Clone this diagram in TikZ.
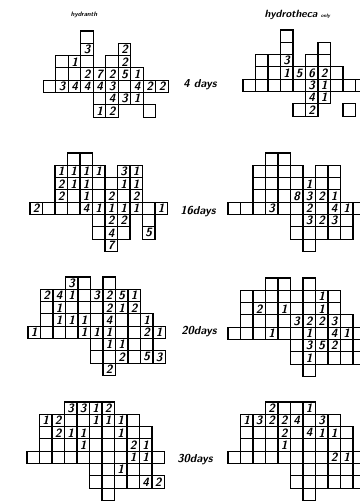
\documentclass[tikz,border=0pt]{standalone}
\usepackage{tikz}
\usetikzlibrary{positioning}

\tikzset{
  cell/.style={rectangle, draw=black, line width=1.1pt, inner sep=0pt, outer sep=0pt,
               minimum width=12.5pt, minimum height=12.3pt},
  num/.style={inner sep=0pt, font=\fontsize{12}{12}\selectfont\sffamily\bfseries\itshape},
  daylbl/.style={inner sep=0pt, font=\fontsize{11.5}{11.5}\selectfont\sffamily\bfseries\itshape},
  colhead/.style={inner sep=0pt, font=\sffamily\bfseries\itshape}
}

% cells of one panel: name, left, top, rows as row/first col/last col
\newcommand{\gridrows}[4]{%
  \foreach \r/\a/\b in {#4}{
    \foreach \c in {\a,...,\b}{
      \node[cell] (#1-\r-\c) at ({#2+(\c+0.5)*12.5},{#3+(\r+0.5)*12.3}) {};
    }
  }}
% numbers in the cells: name, row/col/number
\newcommand{\gridnums}[2]{%
  \foreach \r/\c/\n in {#2}{
    \node[num] (#1-n-\r-\c) at (#1-\r-\c) {\n};
  }}

\begin{document}
\begin{tikzpicture}[x=1pt, y=-1pt]
  \useasboundingbox (0,0) rectangle (359,502);

  \node[colhead, font=\fontsize{6.5}{6.5}\selectfont\sffamily\bfseries\itshape] (hydranth) at (84,15) {hydranth};
  \node[colhead, font=\fontsize{10.5}{10.5}\selectfont\sffamily\bfseries\itshape] (theca) at (291,15) {hydrotheca};
  \node[colhead, font=\sffamily\bfseries\itshape\tiny, right=3pt of theca.base east, anchor=base west] (only) {only};

  % 4 days
  \gridrows{ha}{43.3}{31}{0/3/3, 1/3/3, 1/6/6, 2/1/3, 2/5/6, 3/1/7, 4/0/9, 5/4/7, 6/4/5, 6/8/8}
  \gridnums{ha}{1/3/3, 1/6/2, 2/2/1, 2/6/2, 3/3/2, 3/4/7, 3/5/2, 3/6/5, 3/7/1,
    4/1/3, 4/2/4, 4/3/4, 4/4/4, 4/5/3, 4/7/4, 4/8/2, 4/9/2, 5/5/4, 5/6/3, 5/7/1, 6/4/1, 6/5/2}
  \gridrows{ta}{243}{30}{0/3/3, 1/3/3, 1/6/6, 2/1/3, 2/5/6, 3/1/7, 4/0/9, 5/5/6, 6/4/5, 6/8/8}
  \gridnums{ta}{2/3/3, 3/3/1, 3/4/5, 3/5/6, 3/6/2, 4/5/3, 4/6/1, 5/5/4, 5/6/1, 6/5/2}
  \node[daylbl] (d4) at (200,85) {4 days};

  % 16 days
  \gridrows{hb}{30}{153}{0/3/4, 1/2/5, 1/7/8, 2/2/8, 3/2/8, 4/0/10, 5/5/7, 5/9/9, 6/5/7, 6/9/9, 7/6/6}
  \gridnums{hb}{1/2/1, 1/3/1, 1/4/1, 1/5/1, 1/7/3, 1/8/1, 2/2/2, 2/3/1, 2/4/1, 2/7/1, 2/8/1,
    3/2/2, 3/4/1, 3/6/2, 3/8/2, 4/0/2, 4/4/4, 4/5/1, 4/6/1, 4/7/1, 4/8/1, 4/10/1,
    5/6/2, 5/7/2, 6/6/4, 6/9/5, 7/6/7}
  \gridrows{tb}{228}{153}{0/3/4, 1/2/5, 1/7/8, 2/2/8, 3/2/8, 4/0/10, 5/5/9, 6/5/9, 7/6/6}
  \gridnums{tb}{2/6/1, 3/5/8, 3/6/3, 3/7/2, 3/8/1, 4/3/3, 4/6/2, 4/8/4, 4/9/1, 5/6/3, 5/7/2, 5/8/3}
  \node[daylbl] (d16) at (198,212) {16days};

  % 20 days
  \gridrows{hc}{28}{277}{0/3/4, 0/6/6, 1/1/8, 2/1/8, 3/1/9, 4/0/10, 5/5/9, 6/5/10, 7/6/6}
  \gridnums{hc}{0/3/3, 1/1/2, 1/2/4, 1/3/1, 1/5/3, 1/6/2, 1/7/5, 1/8/1, 2/2/1, 2/6/2, 2/7/1, 2/8/2,
    3/2/1, 3/3/1, 3/4/1, 3/6/4, 3/9/1, 4/0/1, 4/4/1, 4/5/1, 4/6/1, 4/9/2, 4/10/1,
    5/6/1, 5/7/1, 6/7/2, 6/9/5, 6/10/3, 7/6/2}
  \gridrows{tc}{228}{278}{0/3/4, 0/6/6, 1/1/8, 2/1/8, 3/1/9, 4/0/10, 5/5/9, 6/5/10, 7/6/6}
  \gridnums{tc}{1/7/1, 2/2/2, 2/4/1, 2/7/1, 3/5/3, 3/6/2, 3/7/2, 3/8/3, 4/3/1, 4/6/1, 4/8/4, 4/9/1,
    5/6/3, 5/7/5, 5/8/2, 6/6/1}
  \node[daylbl] (d20) at (199,332) {20days};

  % 30 days
  \gridrows{hd}{27}{402}{0/3/6, 1/1/8, 2/1/9, 3/1/9, 4/0/10, 5/5/9, 6/5/10, 7/6/6}
  \gridnums{hd}{0/3/3, 0/4/3, 0/5/1, 0/6/2, 1/1/1, 1/2/2, 1/5/1, 1/6/1, 1/7/1, 2/2/2, 2/3/1, 2/4/1, 2/7/1,
    3/4/1, 3/8/2, 3/9/1, 4/8/1, 4/9/1, 5/7/1, 6/9/4, 6/10/2}
  \gridrows{td}{228}{402}{0/3/6, 1/1/8, 2/1/9, 3/1/9, 4/0/10, 5/5/9, 6/5/10, 7/6/6}
  \gridnums{td}{0/3/2, 0/6/1, 1/1/1, 1/2/3, 1/3/2, 1/4/2, 1/5/4, 1/7/3, 2/4/2, 2/6/4, 2/7/1, 2/8/1,
    3/4/1, 4/8/2, 4/9/1}
  \node[daylbl] (d30) at (195,460) {30days};
\end{tikzpicture}
\end{document}
